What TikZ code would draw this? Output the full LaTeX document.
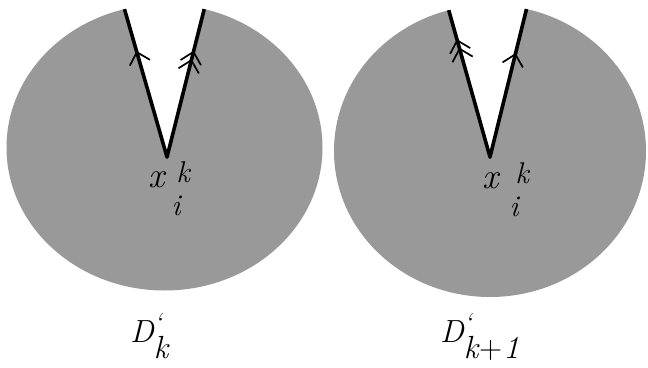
\documentclass[tikz,border=0pt]{standalone}
\usetikzlibrary{arrows.meta,decorations.markings,calc}
\tikzset{
  disc/.style={fill=black!40},
  cutline/.style={line width=3.6pt, line cap=round},
  barb/.style={line width=1.7pt},
  lbl/.style={inner sep=0pt, font=\fontsize{36}{38}\selectfont\itshape},
  idx/.style={inner sep=0pt, font=\fontsize{30}{32}\selectfont\itshape},
  dlbl/.style={inner sep=0pt, anchor=base west, font=\fontsize{32}{34}\selectfont\itshape},
  single/.style={postaction={decorate, decoration={markings,
     mark=at position #1 with {\arrow[barb]{Straight Barb[length=11pt,width=21pt]}}}}},
  double/.style 2 args={postaction={decorate, decoration={markings,
     mark=at position #1 with {\arrow[barb]{Straight Barb[length=11pt,width=21pt]}},
     mark=at position #2 with {\arrow[barb]{Straight Barb[length=11pt,width=21pt]}}}}}
}
\newcommand{\primemark}{\rlap{\raisebox{11pt}{\fontsize{26}{26}\selectfont ‘}}}
\begin{document}
\begin{tikzpicture}[x=1pt,y=-1pt]
\useasboundingbox (0,0) rectangle (648,367);
% ---------- left disc ----------
\coordinate (A1) at (167,157);
\coordinate (L1) at (123,4);
\coordinate (R1) at (205,6);
\fill[disc] (164.5,147.5) ellipse[x radius=158, y radius=143];
\fill[white] (A1) -- ($(A1)!1.3!(L1)$) -- ($(A1)!1.3!(R1)$) -- cycle;
\begin{scope}
  \clip (164.5,147.5) ellipse[x radius=158, y radius=143];
  \draw[cutline, single=0.63] (A1) -- ($(A1)!1.1!(L1)$);
  \draw[cutline, double={0.59}{0.64}] (A1) -- ($(A1)!1.1!(R1)$);
\end{scope}
\node[lbl] (x1) at (157,180) {x};
\node[idx] (k1) at (183,172) {k};
\node[idx] (i1) at (176,206) {i};
\node[dlbl] (D1) at (130,342) {D\primemark\raisebox{-16pt}{k}};
% ---------- right disc ----------
\coordinate (A2) at (490,157);
\coordinate (L2) at (447,4);
\coordinate (R2) at (527,7);
\fill[disc] (490,151) ellipse[x radius=156, y radius=146];
\fill[white] (A2) -- ($(A2)!1.3!(L2)$) -- ($(A2)!1.3!(R2)$) -- cycle;
\begin{scope}
  \clip (490,151) ellipse[x radius=156, y radius=146];
  \draw[cutline, double={0.65}{0.70}] (A2) -- ($(A2)!1.1!(L2)$);
  \draw[cutline, single=0.63] (A2) -- ($(A2)!1.1!(R2)$);
\end{scope}
\node[lbl] (x2) at (491,181) {x};
\node[idx] (k2) at (522,173) {k};
\node[idx] (i2) at (514,207) {i};
\node[dlbl] (D2) at (440,342) {D\primemark\raisebox{-16pt}{k\kern1pt\textup{+}\kern1pt 1}};
\end{tikzpicture}
\end{document}
